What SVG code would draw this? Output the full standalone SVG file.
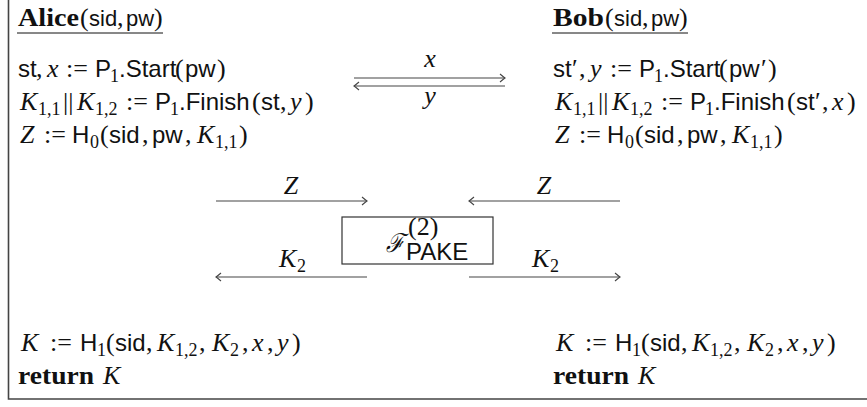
<svg xmlns="http://www.w3.org/2000/svg" width="867" height="407" viewBox="0 0 867 407">
<defs>
<style>
text{font-family:"Liberation Serif",serif;font-size:26px;fill:#111}
.sf{font-family:"Liberation Sans","DejaVu Sans",sans-serif;font-size:24px}
.hs{font-family:"Liberation Sans","DejaVu Sans",sans-serif;font-size:22px}
.it{font-style:italic}
.bf{font-weight:bold}
.sub{font-size:18px}
.ln{stroke:#444;stroke-width:1.2;fill:none}
</style>
<marker id="ah" viewBox="-6 -5 7 10" refX="0" refY="0" markerWidth="7" markerHeight="10" markerUnits="userSpaceOnUse" orient="auto">
<path d="M-5,-4 Q-1.5,-1 0,0 Q-1.5,1 -5,4" fill="none" stroke="#444" stroke-width="1.1"/>
</marker>
</defs>
<rect width="867" height="407" fill="#fff"/>
<path d="M8.5,0 V399 H867" fill="none" stroke="#444" stroke-width="1.6"/>

<g id="alice">
<text x="18" y="26" class="bf" textLength="61" lengthAdjust="spacingAndGlyphs">Alice</text>
<text y="26"><tspan x="80">(</tspan><tspan class="hs" x="89">sid</tspan><tspan x="117">,</tspan><tspan class="hs" x="126">pw</tspan><tspan x="154">)</tspan></text>
<line x1="17" y1="33" x2="163" y2="33" stroke="#111" stroke-width="1"/>
<text y="77"><tspan class="sf" x="18">st</tspan><tspan x="36">,</tspan><tspan class="it" x="47">x</tspan><tspan x="66">:=</tspan><tspan class="sf" x="95">P</tspan><tspan class="sub" x="110" y="82">1</tspan><tspan class="sf" x="119" y="77">.Start</tspan><tspan x="175">(</tspan><tspan class="sf" x="185">pw</tspan><tspan x="217">)</tspan></text>
<text y="110"><tspan class="it" x="20">K</tspan><tspan class="sub" x="38" y="115">1,1</tspan><tspan x="63" y="110">||</tspan><tspan class="it" x="77">K</tspan><tspan class="sub" x="95" y="115">1,2</tspan><tspan x="126" y="110">:=</tspan><tspan class="sf" x="155">P</tspan><tspan class="sub" x="170" y="115">1</tspan><tspan class="sf" x="179" y="110">.Finish</tspan><tspan x="252">(</tspan><tspan class="sf" x="261">st</tspan><tspan x="280">,</tspan><tspan class="it" x="290">y</tspan><tspan x="305">)</tspan></text>
<text y="143"><tspan class="it" x="20">Z</tspan><tspan x="44">:=</tspan><tspan class="sf" x="72">H</tspan><tspan class="sub" x="90" y="148">0</tspan><tspan x="100" y="143">(</tspan><tspan class="sf" x="109">sid</tspan><tspan x="142">,</tspan><tspan class="sf" x="152">pw</tspan><tspan x="185">,</tspan><tspan class="it" x="197">K</tspan><tspan class="sub" x="215" y="148">1,1</tspan><tspan x="239" y="143">)</tspan></text>
<text y="351"><tspan class="it" x="21">K</tspan><tspan x="50">:=</tspan><tspan class="sf" x="80">H</tspan><tspan class="sub" x="97" y="356">1</tspan><tspan x="106" y="351">(</tspan><tspan class="sf" x="115">sid</tspan><tspan x="146">,</tspan><tspan class="it" x="157">K</tspan><tspan class="sub" x="175" y="356">1,2</tspan><tspan x="199" y="351">,</tspan><tspan class="it" x="212">K</tspan><tspan class="sub" x="230" y="356">2</tspan><tspan x="242" y="351">,</tspan><tspan class="it" x="252">x</tspan><tspan x="267">,</tspan><tspan class="it" x="277">y</tspan><tspan x="292">)</tspan></text>
<text x="18" y="384" class="bf" textLength="76" lengthAdjust="spacingAndGlyphs">return</text>
<text x="103" y="384" class="it">K</text>
</g>

<g id="bob">
<text x="553" y="26" class="bf" textLength="51" lengthAdjust="spacingAndGlyphs">Bob</text>
<text y="26"><tspan x="605">(</tspan><tspan class="hs" x="614">sid</tspan><tspan x="642">,</tspan><tspan class="hs" x="651">pw</tspan><tspan x="679">)</tspan></text>
<line x1="552" y1="33" x2="688" y2="33" stroke="#111" stroke-width="1"/>
<text y="77"><tspan class="sf" x="553">st</tspan><tspan x="572">′</tspan><tspan x="579">,</tspan><tspan class="it" x="590">y</tspan><tspan x="610">:=</tspan><tspan class="sf" x="639">P</tspan><tspan class="sub" x="654" y="82">1</tspan><tspan class="sf" x="663" y="77">.Start</tspan><tspan x="719">(</tspan><tspan class="sf" x="729">pw</tspan><tspan x="761">′</tspan><tspan x="768">)</tspan></text>
<text y="110"><tspan class="it" x="555">K</tspan><tspan class="sub" x="573" y="115">1,1</tspan><tspan x="598" y="110">||</tspan><tspan class="it" x="612">K</tspan><tspan class="sub" x="630" y="115">1,2</tspan><tspan x="661" y="110">:=</tspan><tspan class="sf" x="690">P</tspan><tspan class="sub" x="705" y="115">1</tspan><tspan class="sf" x="714" y="110">.Finish</tspan><tspan x="787">(</tspan><tspan class="sf" x="796">st</tspan><tspan x="815">′</tspan><tspan x="822">,</tspan><tspan class="it" x="832">x</tspan><tspan x="847">)</tspan></text>
<text y="143"><tspan class="it" x="555">Z</tspan><tspan x="579">:=</tspan><tspan class="sf" x="607">H</tspan><tspan class="sub" x="625" y="148">0</tspan><tspan x="635" y="143">(</tspan><tspan class="sf" x="644">sid</tspan><tspan x="677">,</tspan><tspan class="sf" x="687">pw</tspan><tspan x="720">,</tspan><tspan class="it" x="732">K</tspan><tspan class="sub" x="750" y="148">1,1</tspan><tspan x="774" y="143">)</tspan></text>
<text y="351"><tspan class="it" x="556">K</tspan><tspan x="585">:=</tspan><tspan class="sf" x="615">H</tspan><tspan class="sub" x="632" y="356">1</tspan><tspan x="641" y="351">(</tspan><tspan class="sf" x="650">sid</tspan><tspan x="681">,</tspan><tspan class="it" x="692">K</tspan><tspan class="sub" x="710" y="356">1,2</tspan><tspan x="734" y="351">,</tspan><tspan class="it" x="747">K</tspan><tspan class="sub" x="765" y="356">2</tspan><tspan x="777" y="351">,</tspan><tspan class="it" x="787">x</tspan><tspan x="802">,</tspan><tspan class="it" x="812">y</tspan><tspan x="827">)</tspan></text>
<text x="553" y="384" class="bf" textLength="76" lengthAdjust="spacingAndGlyphs">return</text>
<text x="638" y="384" class="it">K</text>
</g>

<g id="fpake">
<rect x="342" y="217" width="151" height="47" fill="#fff" stroke="#333" stroke-width="1.2"/>
<text x="386" y="252" font-size="22" font-family="'DejaVu Serif',serif" font-style="italic" textLength="18" lengthAdjust="spacingAndGlyphs">ℱ</text>
<text x="408" y="235" font-size="14">(2)</text>
<text x="406" y="260" class="sf" font-size="14">PAKE</text>
</g>

<g id="connectors">
<line class="ln" x1="354" y1="78" x2="505" y2="78" marker-end="url(#ah)"/>
<line class="ln" x1="505" y1="86" x2="354" y2="86" marker-end="url(#ah)"/>
<line class="ln" x1="216" y1="201" x2="367" y2="201" marker-end="url(#ah)"/>
<line class="ln" x1="620" y1="201" x2="469" y2="201" marker-end="url(#ah)"/>
<line class="ln" x1="367" y1="277" x2="216" y2="277" marker-end="url(#ah)"/>
<line class="ln" x1="469" y1="277" x2="620" y2="277" marker-end="url(#ah)"/>
</g>
<g id="labels">
<text x="430" y="67" class="it" text-anchor="middle">x</text>
<text x="430" y="104" class="it" text-anchor="middle">y</text>
<text x="291" y="194" class="it" text-anchor="middle">Z</text>
<text x="544" y="194" class="it" text-anchor="middle">Z</text>
<text y="267"><tspan class="it" x="279">K</tspan><tspan class="sub" x="297" y="272">2</tspan></text>
<text y="267"><tspan class="it" x="532">K</tspan><tspan class="sub" x="550" y="272">2</tspan></text>
</g>
</svg>
